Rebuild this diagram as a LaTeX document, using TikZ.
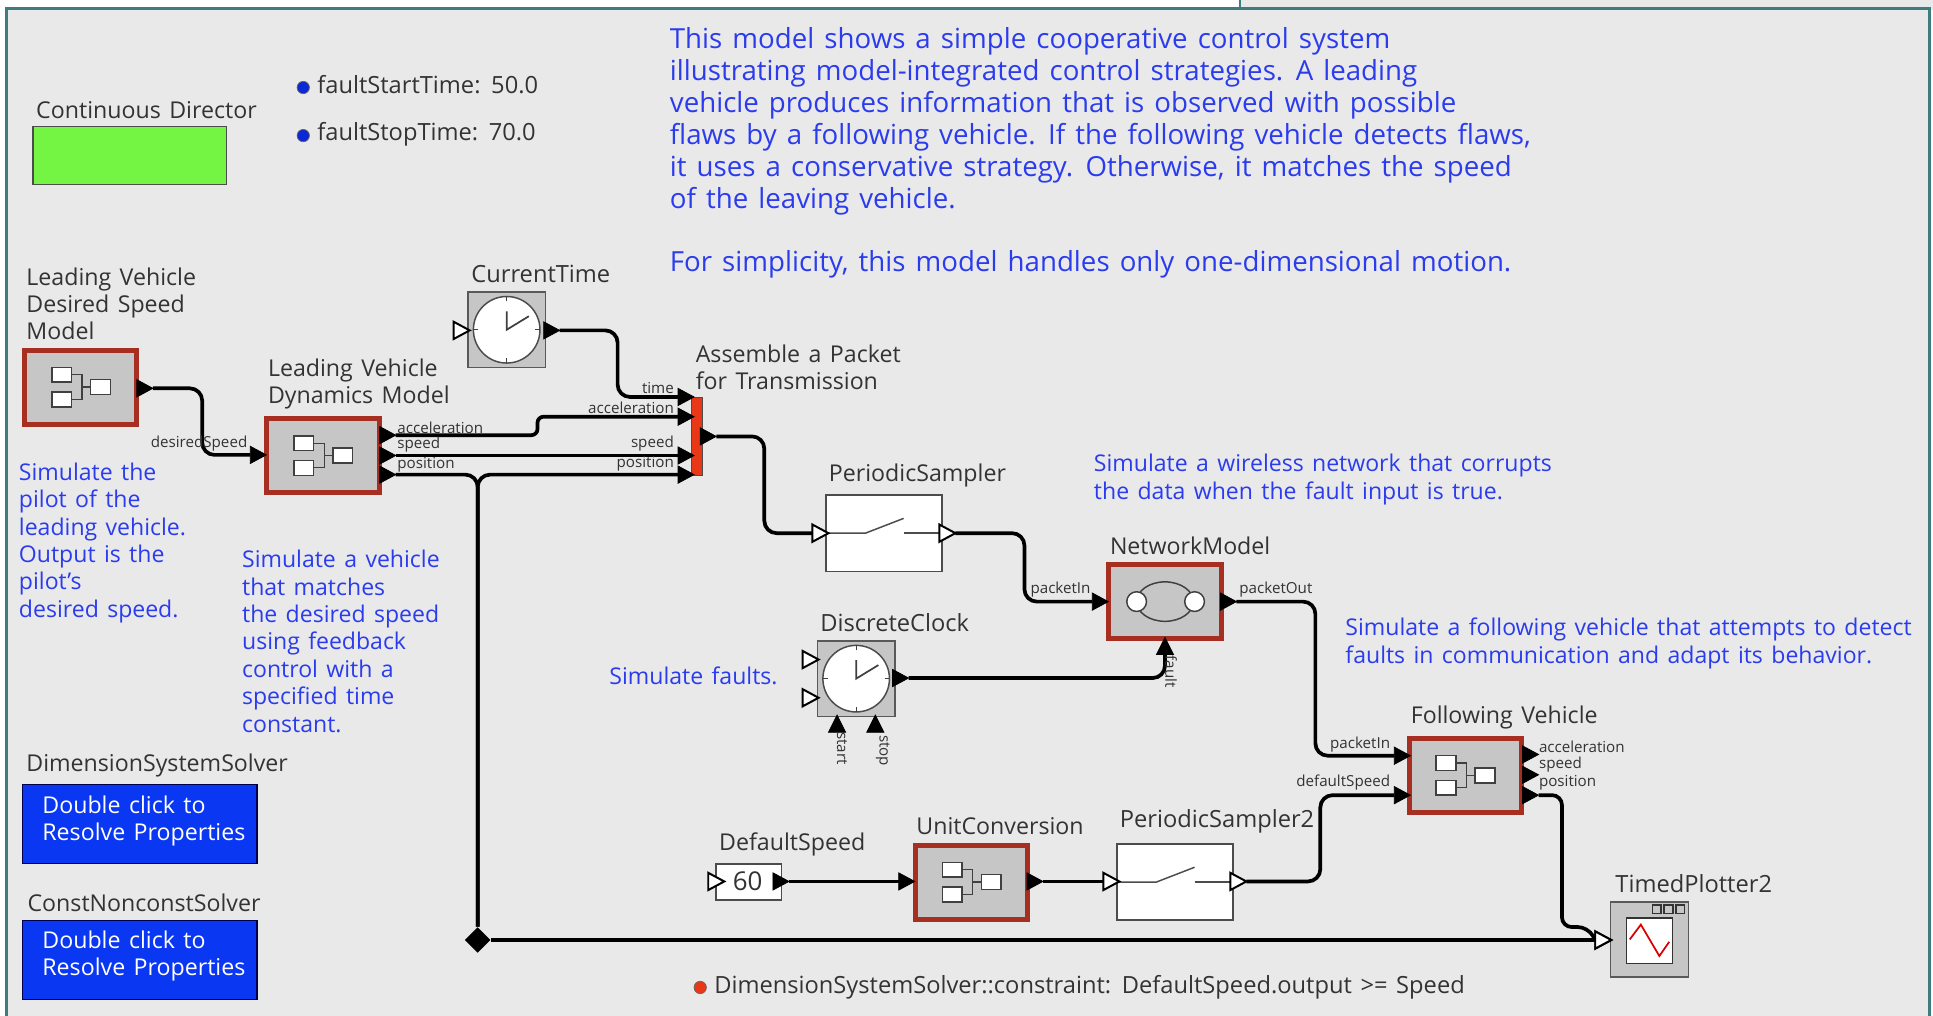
\documentclass[tikz,border=0pt]{standalone}
\usepackage{fontspec}
\setmainfont[WordSpace=1.4]{Open Sans}
\usetikzlibrary{calc,shapes.geometric}
\definecolor{pagebg}{HTML}{E9E9E9}
\definecolor{teal0}{HTML}{3F7C7E}
\definecolor{blocktint}{HTML}{C6C6C6}
\definecolor{redrim}{HTML}{A62F22}
\definecolor{notes}{HTML}{2B3CEE}
\definecolor{labelc}{HTML}{333333}
\definecolor{solverb}{HTML}{0A38F2}
\definecolor{dirgreen}{HTML}{74F544}
\definecolor{barred}{HTML}{E83818}
\definecolor{dotblue}{HTML}{0A28D8}
\definecolor{dotred}{HTML}{E83818}
\tikzset{
 x=0.5pt,y=-0.5pt,
 lab/.style={font=\fontsize{9.4}{11}\selectfont,text=labelc,inner sep=0pt,align=left},
 labwide/.style={font=\fontsize{9.6}{11}\selectfont,text=labelc,inner sep=0pt,align=left},
 tiny/.style={font=\fontsize{6.15}{7}\selectfont,text=labelc,inner sep=0pt},
 bignote/.style={font=\fontsize{11.22}{13}\selectfont,text=notes,inner sep=0pt,align=left},
 note/.style={font=\fontsize{9.35}{11.1}\selectfont,text=notes,inner sep=0pt,align=left},
 actor/.style={draw=redrim,line width=2pt,fill=blocktint,minimum width=45.5pt,minimum height=30pt,inner sep=0pt},
 graybox/.style={draw=black!65,line width=.6pt,fill=blocktint,minimum width=31.5pt,minimum height=30.5pt,inner sep=0pt},
 whitebox/.style={draw=black!70,line width=.7pt,fill=white,minimum width=47pt,minimum height=31pt,inner sep=0pt},
 solver/.style={draw=black!70!blue,line width=.5pt,fill=solverb,minimum width=95pt,minimum height=32pt,inner sep=0pt},
 wire/.style={draw=black,line width=1.5pt,rounded corners=5pt},
 blk/.style={fill=black,draw=black,line width=.3pt},
 opn/.style={fill=white,draw=black,line width=.8pt},
 mini/.style={draw=black!75,line width=.6pt,fill=white},
 link/.style={draw=black!75,line width=.5pt},
 pdot/.style={circle,draw=black!60,line width=.3pt,minimum size=5pt,inner sep=0pt},
}
\newcommand{\inR}[4]{\coordinate (#1) at (#2,#3);\draw[#4] ([yshift=3.5pt]#1) -- ([xshift=6.5pt]#1) -- ([yshift=-3.5pt]#1) -- cycle;}
\newcommand{\outR}[4]{\coordinate (#1) at ({#2+13},#3);\draw[#4] ([yshift=3.5pt,xshift=-6.5pt]#1) -- (#1) -- ([yshift=-3.5pt,xshift=-6.5pt]#1) -- cycle;}
\newcommand{\inU}[4]{\coordinate (#1) at (#2,#3);\draw[#4] ([xshift=-3.5pt]#1) -- ([yshift=7pt]#1) -- ([xshift=3.5pt]#1) -- cycle;}
\newcommand{\compicon}[1]{\begin{scope}[shift={(#1)}]
 \draw[link] (-7,-10) -| (1,10) -- (-7,10);
 \draw[link] (1,0) -- (8,0);
 \draw[mini] (-23.5,-16) rectangle (-7.5,-4);
 \draw[mini] (-23.5,4) rectangle (-7.5,16);
 \draw[mini] (8,-6) rectangle (24,6);
\end{scope}}
\newcommand{\clockicon}[2]{\begin{scope}[shift={(#1)}]
 \draw[draw=black!70,line width=.6pt,fill=white] (0,0) circle (#2);
 \foreach \a in {0,90,180,270}{\draw[black!75,line width=.5pt] (\a:{#2-4}) -- (\a:{#2});}
 \draw[black!75,line width=.7pt] (0,-15) -- (0,0) -- (18,-11);
\end{scope}}
\newcommand{\switchicon}[1]{\begin{scope}[shift={(#1)}]
 \draw[black!70,line width=.6pt] (-48,0) -- (-15,0) -- (16,-12);
 \draw[black!70,line width=.6pt] (16,0) -- (48,0);
\end{scope}}
\begin{document}
\begin{tikzpicture}
\useasboundingbox (0,0) rectangle (1568,824);
\fill[white] (0,0) rectangle (1568,824);
\fill[pagebg] (1006,0) rectangle (1568,8);
\draw[teal0,line width=.9pt] (1006,0) -- (1006,7);
\draw[teal0,line width=1.2pt,fill=pagebg] (5.5,830) -- (5.5,7) -- (1565,7) -- (1565,830);

% texts
\node[lab,anchor=west] (dirlab) at (29,89) {Continuous Director};
\node[draw=black!70,line width=.7pt,minimum width=78.5pt,minimum height=23.5pt,inner sep=0pt,anchor=north west,fill=dirgreen] (director) at (26,102) {};
\node[pdot,fill=dotblue] (d1) at (246,71) {};
\node[labwide,anchor=west] (fstart) at (257,69) {faultStartTime: 50.0};
\node[pdot,fill=dotblue] (d2) at (246,110) {};
\node[labwide,anchor=west] (fstop) at (257,109) {faultStopTime: 70.0};
\node[bignote,anchor=north west] (main) at (543,22) {This model shows a simple cooperative control system\\illustrating model-integrated control strategies. A leading\\vehicle produces information that is observed with possible\\flaws by a following vehicle. If the following vehicle detects flaws,\\it uses a conservative strategy. Otherwise, it matches the speed\\of the leaving vehicle.\\[12.5pt]For simplicity, this model handles only one-dimensional motion.};
\node[lab,anchor=north west] (l1) at (21,217) {Leading Vehicle\\Desired Speed\\Model};
\node[lab,anchor=north west] (l2) at (217,291) {Leading Vehicle\\Dynamics Model};
\node[note,anchor=north west] (n1) at (15,375) {Simulate the\\pilot of the\\leading vehicle.\\Output is the\\pilot's\\desired speed.};
\node[note,anchor=north west] (n2) at (196,446) {Simulate a vehicle\\that matches\\the desired speed\\using feedback\\control with a\\specified time\\constant.};
\node[labwide,anchor=west] (ctl) at (382,222) {CurrentTime};
\node[lab,anchor=north west] (asm) at (564,279) {Assemble a Packet\\for Transmission};
\node[lab,anchor=west] (psl) at (672,386) {PeriodicSampler};
\node[note,anchor=north west] (n3) at (887,368) {Simulate a wireless network that corrupts\\the data when the fault input is true.};
\node[lab,anchor=west] (nml) at (900,443) {NetworkModel};
\node[labwide,anchor=west] (dcl) at (665,505) {DiscreteClock};
\node[note,anchor=west] (n4) at (494,548) {Simulate faults.};
\node[note,anchor=north west] (n5) at (1091,501) {Simulate a following vehicle that attempts to detect\\faults in communication and adapt its behavior.};
\node[lab,anchor=west] (fvl) at (1144,582) {Following Vehicle};
\node[lab,anchor=west] (dsl) at (583,685) {DefaultSpeed};
\node[lab,anchor=west] (ucl) at (743,670) {UnitConversion};
\node[labwide,anchor=west] (ps2l) at (908,666) {PeriodicSampler2};
\node[labwide,anchor=west] (tpl) at (1310,717) {TimedPlotter2};
\node[lab,anchor=west] (dssl) at (21,621) {DimensionSystemSolver};
\node[lab,anchor=west] (cnsl) at (22,732) {ConstNonconstSolver};
\node[solver,anchor=north west] (dss) at (18,636) {};
\node[solver,anchor=north west] (cns) at (18,746) {};
\node[lab,anchor=north west,text=white] (dsst) at (34,645) {Double click to\\Resolve Properties};
\node[lab,anchor=north west,text=white] (cnst) at (34,755) {Double click to\\Resolve Properties};
\node[pdot,fill=dotred] (d3) at (568,801) {};
\node[labwide,anchor=west] (cons) at (579,801) {DimensionSystemSolver::constraint: DefaultSpeed.output >= Speed};

% blocks
\node[actor] (b1) at (65.5,314) {}; \compicon{b1.center}
\node[actor] (b2) at (262,369.5) {}; \compicon{b2.center}
\node[graybox] (ct) at (411,267.5) {}; \clockicon{ct.center}{27}
\node[draw=black!70,line width=.3pt,fill=barred,minimum width=4.5pt,minimum height=32pt,inner sep=0pt] (pk) at (565.5,354) {};
\node[whitebox] (ps) at (717,432.5) {}; \switchicon{ps.center}
\node[actor] (net) at (945,488) {};
\begin{scope}[shift={(net.center)}]
 \draw[black!75,line width=.6pt] (0,0) ellipse (23 and 16);
 \draw[mini] (-23,0) circle (8); \draw[mini] (24,0) circle (8);
\end{scope}
\node[graybox] (dc) at (694.5,550.5) {}; \clockicon{dc.center}{27}
\node[actor] (fv) at (1188.5,629) {}; \compicon{fv.center}
\node[whitebox,minimum width=26.5pt,minimum height=14.5pt] (ds) at (607.5,715.5) {};
\node[lab,anchor=center] (sixty) at (606.5,714.5) {\fontsize{10.5}{12}\selectfont 60};
\node[actor] (uc) at (788,715.5) {}; \compicon{uc.center}
\node[whitebox] (ps2) at (953,715.5) {}; \switchicon{ps2.center}
\node[graybox] (tp) at (1338,762) {};
\node[draw=black!80,line width=.6pt,fill=white,minimum size=18.5pt,inner sep=0pt] (tps) at (1338,763) {};
\draw[red!85!black,line width=.7pt] (1322,762) -- (1331,750) -- (1346,775.5) -- (1354,764);
\foreach \xx in {1344,1353.5,1363}{\draw[black!80,line width=.7pt,fill=blocktint] (\xx-3.5,734) rectangle (\xx+3.5,741);}

% ports
\outR{o1}{111}{315}{blk}
\inR{i2}{203}{369}{blk}
\outR{o2a}{308}{353}{blk}
\outR{o2s}{308}{369.5}{blk}
\outR{o2p}{308}{385}{blk}
\inR{ctin}{368}{268}{opn}
\outR{cto}{441}{268}{blk}
\inR{pkt}{550}{322}{blk}
\inR{pka}{550}{338}{blk}
\inR{pks}{550}{369.5}{blk}
\inR{pkp}{550}{385}{blk}
\outR{pko}{568}{354}{blk}
\inR{psi}{659}{432.5}{opn}
\outR{pso}{762}{432.5}{opn}
\inR{nei}{886}{488}{blk}
\outR{neo}{990}{488}{blk}
\inU{nef}{945}{531}{blk}
\inR{dcs1}{651}{535}{opn}
\inR{dcs2}{651}{566}{opn}
\outR{dco}{724}{550}{blk}
\inU{dcst}{679}{594}{blk}
\inU{dcsp}{710}{594}{blk}
\inR{fvp}{1131}{613}{blk}
\inR{fvd}{1131}{645}{blk}
\outR{fva}{1235}{612}{blk}
\outR{fvs}{1235}{628.5}{blk}
\outR{fvo}{1235}{645}{blk}
\inR{dsi}{574.5}{715}{opn}
\outR{dso}{627}{715}{blk}
\inR{uci}{729}{715}{blk}
\outR{uco}{833}{715}{blk}
\inR{p2i}{895}{715}{opn}
\outR{p2o}{998}{715}{opn}
\inR{tpi}{1294}{762.5}{opn}

% connectors
\node[diamond,fill=black,minimum size=10.5pt,inner sep=0pt] (junc) at (387.5,762.5) {};
\draw[wire] (o1) -- (164,315) -- (164,369) -- (i2);
\draw[wire,rounded corners=2.5pt] (o2a) -- (436,353) -- (436,338) -- (pka);
\draw[wire] (o2s) -- (pks);
\coordinate (forkp) at (387.5,385);
\draw[wire] (o2p) -- (forkp) -- (junc);
\draw[wire] (pkp) -- (forkp) -- (junc);
\draw[wire] (cto) -- (501,268) -- (501,322) -- (pkt);
\draw[wire] (pko) -- (620,354) -- (620,432.5) -- (psi);
\draw[wire] (pso) -- (831,432.5) -- (831,488) -- (nei);
\draw[wire] (dco) -- (945,550) -- (nef);
\draw[wire] (neo) -- (1067,488) -- (1067,613) -- (fvp);
\draw[wire] (dso) -- (uci);
\draw[wire] (uco) -- (p2i);
\draw[wire] (p2o) -- (1071,715) -- (1071,645) -- (fvd);
\draw[wire,line width=1.25pt] (junc) -- (tpi);
\draw[wire,rounded corners=4pt] (fvo) -- (1267,645) -- (1267,752) -- (1288,752) -- (tpi);
\draw[opn] ([yshift=3.5pt]tpi) -- ([xshift=6.5pt]tpi) -- ([yshift=-3.5pt]tpi) -- cycle;

% port labels
\node[tiny,anchor=east] (t1) at (201,360) {desiredSpeed};
\node[tiny,anchor=west] (t2) at (322,347) {acceleration};
\node[tiny,anchor=west] (t3) at (322,361) {speed};
\node[tiny,anchor=west] (t4) at (322,377) {position};
\node[tiny,anchor=east] (t5) at (547,315) {time};
\node[tiny,anchor=east] (t6) at (547,331) {acceleration};
\node[tiny,anchor=east] (t7) at (547,360) {speed};
\node[tiny,anchor=east] (t8) at (547,376) {position};
\node[tiny,anchor=east] (t9) at (885,478) {packetIn};
\node[tiny,anchor=west] (t10) at (1005,478) {packetOut};
\node[tiny,rotate=-90] (t11) at (950,545) {fault};
\node[tiny,rotate=-90] (t12) at (683,607) {start};
\node[tiny,rotate=-90] (t13) at (716,609) {stop};
\node[tiny,anchor=east] (t14) at (1128,604) {packetIn};
\node[tiny,anchor=east] (t15) at (1128,635) {defaultSpeed};
\node[tiny,anchor=west] (t16) at (1248,606) {acceleration};
\node[tiny,anchor=west] (t17) at (1248,620) {speed};
\node[tiny,anchor=west] (t18) at (1248,635) {position};
\end{tikzpicture}
\end{document}
